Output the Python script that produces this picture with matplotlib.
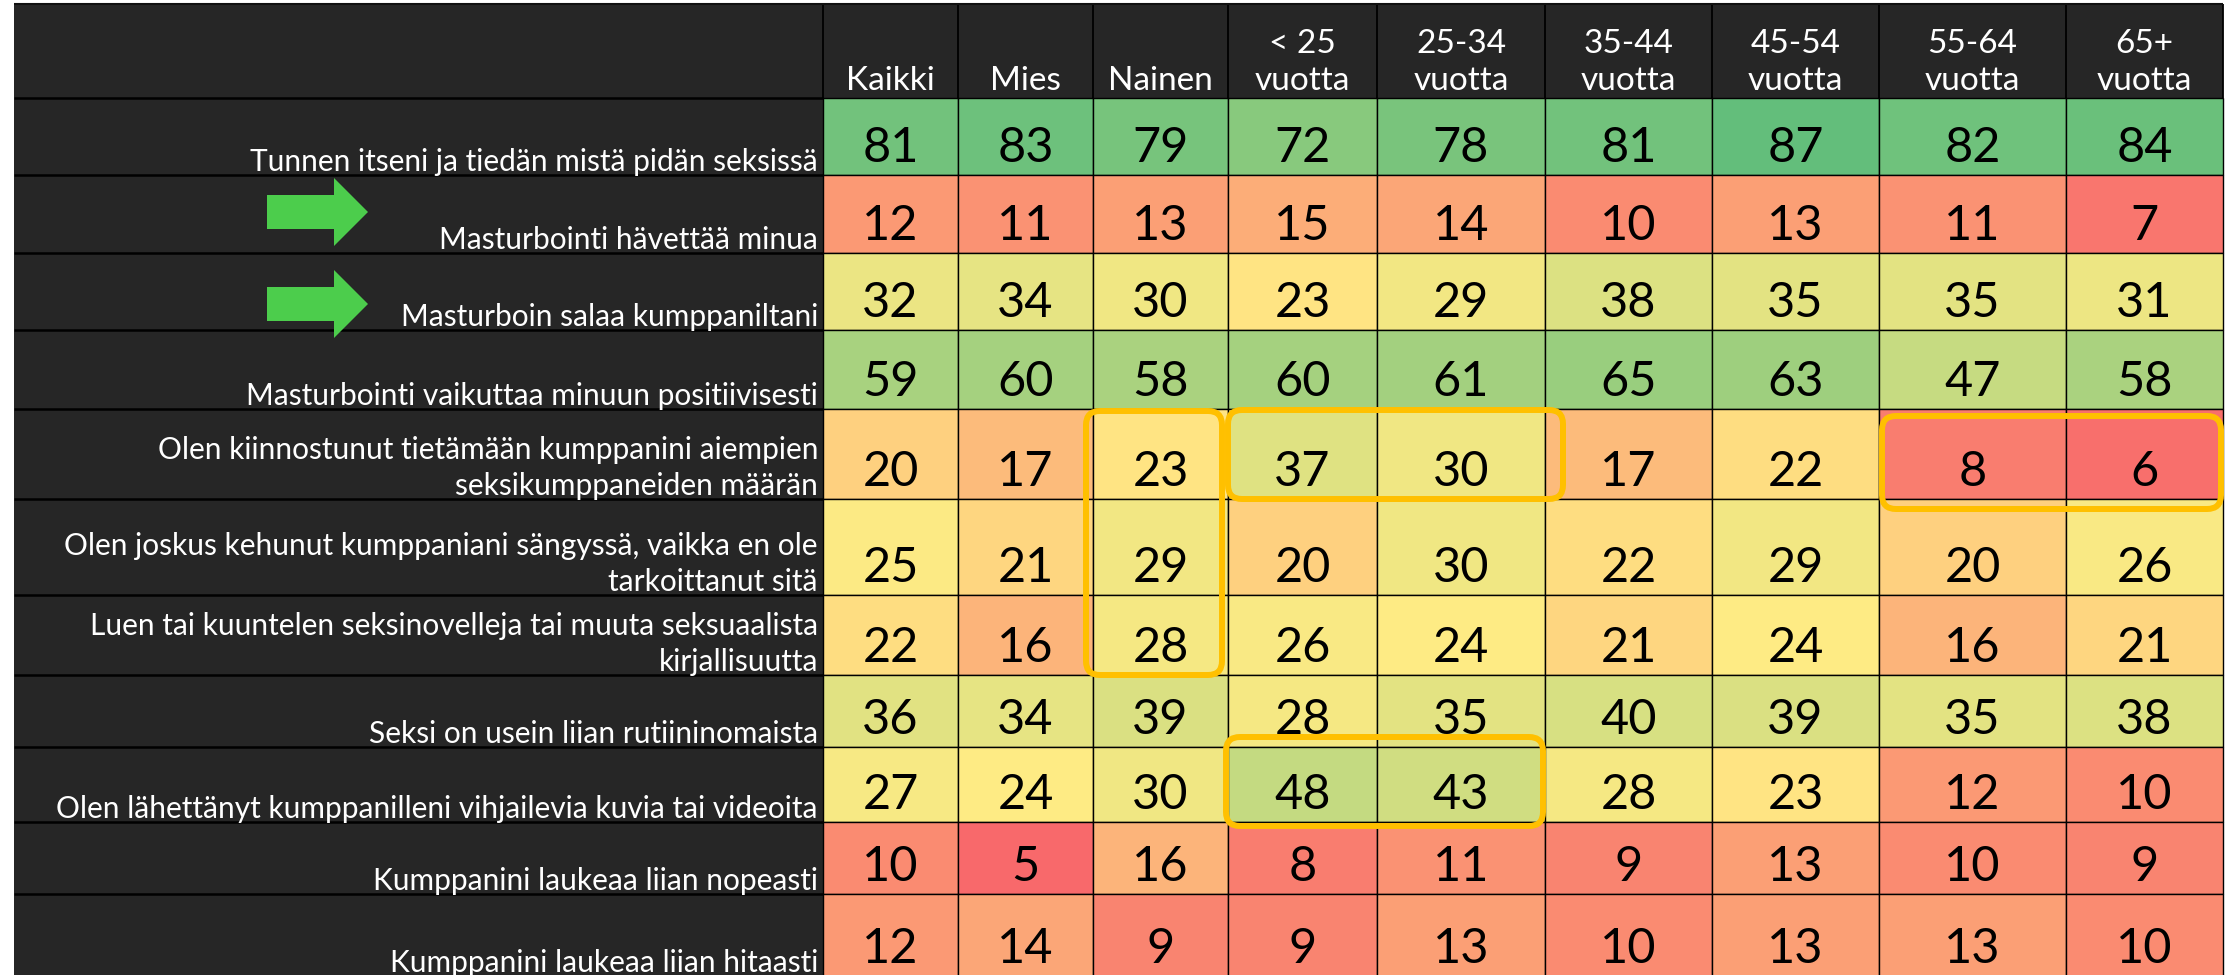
import numpy as np
import matplotlib
matplotlib.use('Agg')
import matplotlib.pyplot as plt
from matplotlib.colors import LinearSegmentedColormap, TwoSlopeNorm
from matplotlib.patches import Rectangle, FancyBboxPatch, Polygon

plt.rcParams['font.family'] = ['Lato', 'DejaVu Sans']

# data
columns = ['Kaikki', 'Mies', 'Nainen', '< 25\nvuotta', '25-34\nvuotta', '35-44\nvuotta',
           '45-54\nvuotta', '55-64\nvuotta', '65+\nvuotta']
statements = [
    'Tunnen itseni ja tiedän mistä pidän seksissä',
    'Masturbointi hävettää minua',
    'Masturboin salaa kumppaniltani',
    'Masturbointi vaikuttaa minuun positiivisesti',
    'Olen kiinnostunut tietämään kumppanini aiempien\nseksikumppaneiden määrän',
    'Olen joskus kehunut kumppaniani sängyssä, vaikka en ole\ntarkoittanut sitä',
    'Luen tai kuuntelen seksinovelleja tai muuta seksuaalista\nkirjallisuutta',
    'Seksi on usein liian rutiininomaista',
    'Olen lähettänyt kumppanilleni vihjailevia kuvia tai videoita',
    'Kumppanini laukeaa liian nopeasti',
    'Kumppanini laukeaa liian hitaasti',
]
row0 = [81, 83, 79, 72, 78, 81, 87, 82, 84]
row1 = [12, 11, 13, 15, 14, 10, 13, 11, 7]
row2 = [32, 34, 30, 23, 29, 38, 35, 35, 31]
row3 = [59, 60, 58, 60, 61, 65, 63, 47, 58]
row4 = [20, 17, 23, 37, 30, 17, 22, 8, 6]
row5 = [25, 21, 29, 20, 30, 22, 29, 20, 26]
row6 = [22, 16, 28, 26, 24, 21, 24, 16, 21]
row7 = [36, 34, 39, 28, 35, 40, 39, 35, 38]
row8 = [27, 24, 30, 48, 43, 28, 23, 12, 10]
row9 = [10, 5, 16, 8, 11, 9, 13, 10, 9]
row10 = [12, 14, 9, 9, 13, 10, 13, 13, 10]
values = np.array([row0, row1, row2, row3, row4, row5, row6, row7, row8, row9, row10])

arrow_rows = [1, 2]
# highlighted cell groups: (first col, last col, first row, last row)
highlights = [(2, 2, 4, 6), (3, 4, 4, 4), (7, 8, 4, 4), (3, 4, 8, 8)]

# layout (pixels)
W, H = 2236, 975
left, top = 14, 4
col_edges = [823, 958, 1093, 1228, 1377, 1545, 1712, 1879, 2066, 2223]
row_edges = [98, 175, 253, 330, 409, 499, 595, 675, 747, 822, 894, 976]
box_adjust = [(-7, -6, 2, 0), (0, 18, 1, 0), (3, -2, 7, 10), (-2, -2, -10, 4)]
arrow_y = [212, 304]

# excel style 3-colour scale
cmap = LinearSegmentedColormap.from_list('rdylgn', ['#F8696B', '#FFEB84', '#63BE7B'])
norm = TwoSlopeNorm(vmin=values.min(), vcenter=np.percentile(values, 50), vmax=values.max())

fig = plt.figure(figsize=(W / 100, H / 100), dpi=100)
ax = fig.add_axes([0, 0, 1, 1])
ax.set_xlim(0, W)
ax.set_ylim(H, 0)
ax.axis('off')

ax.add_patch(Rectangle((left, top), col_edges[-1] - left, row_edges[-1] - top,
                       facecolor='#262626', edgecolor='none', zorder=0))

# header
for j, name in enumerate(columns):
    xc = (col_edges[j] + col_edges[j + 1]) / 2
    ax.text(xc, row_edges[0] - 2, name, color='white', fontsize=24, ha='center',
            va='bottom', linespacing=1.3, zorder=3)
ax.vlines(col_edges, top, row_edges[0], color='black', lw=1.3, zorder=2)
ax.hlines(top, left, col_edges[-1], color='#111111', lw=1.5, zorder=2)

# label column
ax.hlines(row_edges[:-1], left, col_edges[0], color='black', lw=1.8, zorder=2)
for i, lab in enumerate(statements):
    ax.text(col_edges[0] - 5, row_edges[i + 1] + 1, lab, color='white', fontsize=21.5,
            ha='right', va='bottom', linespacing=1.33, zorder=3)

# cells
for i in range(values.shape[0]):
    for j in range(values.shape[1]):
        v = values[i, j]
        x0, x1 = col_edges[j], col_edges[j + 1]
        y0, y1 = row_edges[i], row_edges[i + 1]
        ax.add_patch(Rectangle((x0, y0), x1 - x0, y1 - y0, facecolor=cmap(norm(v)),
                               edgecolor='black', lw=1.0, zorder=1))
        ax.text((x0 + x1) / 2, y1 - 13, str(v), color='black', fontsize=35,
                ha='center', va='baseline', zorder=3)

# green arrows
for yc in arrow_y:
    pts = [(267, yc - 17), (334, yc - 17), (334, yc - 34), (368, yc), (334, yc + 34),
           (334, yc + 17), (267, yc + 17)]
    ax.add_patch(Polygon(pts, closed=True, facecolor='#4CCD4C', edgecolor='none', zorder=3))

# orange highlight boxes
for (c0, c1, r0, r1), (dl, dr, dt, db) in zip(highlights, box_adjust):
    x0 = col_edges[c0] + dl
    x1 = col_edges[c1 + 1] + dr
    y0 = row_edges[r0] + dt
    y1 = row_edges[r1 + 1] + db
    ax.add_patch(FancyBboxPatch((x0, y0), x1 - x0, y1 - y0,
                                boxstyle='round,pad=0,rounding_size=14',
                                facecolor='none', edgecolor='#FFC000', lw=4.3, zorder=4))

fig.savefig('out.png', dpi=100)
